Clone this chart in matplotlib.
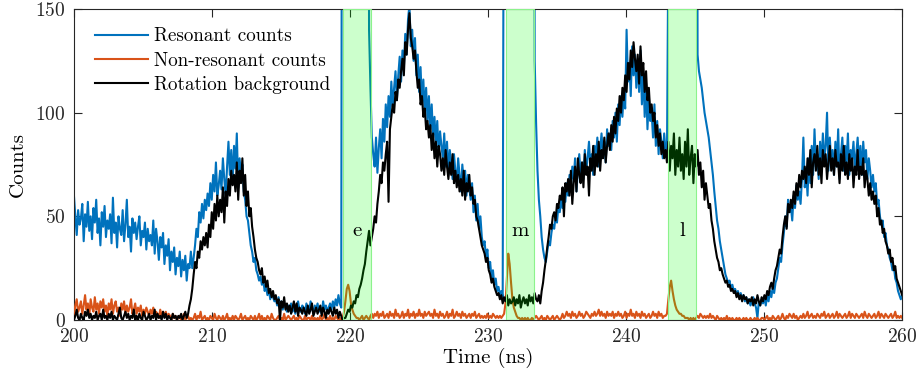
import numpy as np
import matplotlib
matplotlib.use("Agg")
import matplotlib.pyplot as plt

t_start, t_step = 199.493, 0.10087

resonant = [
61,48,52,44,55,60,50,41,53,46,
49,56,38,51,45,57,43,50,39,54,
47,58,42,49,36,52,45,55,40,48,
44,51,37,59,42,47,35,50,44,41,
53,38,46,58,40,45,33,49,42,47,
39,45,50,36,43,40,47,34,44,38,
41,36,48,32,44,38,29,40,35,42,
27,36,31,39,24,33,28,35,22,30,
26,33,21,29,24,31,19,27,25,33,
25,30,36,44,40,52,47,56,49,58,
53,61,55,66,58,70,62,76,60,65,
72,63,78,68,60,74,86,70,82,66,
84,73,90,64,78,70,75,62,58,50,
48,42,36,33,28,30,24,22,19,21,
17,19,14,16,12,15,10,13,11,9,
10,7,11,6,9,5,8,6,4,7,
5,8,4,7,3,6,9,5,4,7,
6,3,8,5,4,9,6,3,7,5,
8,4,6,3,9,5,7,4,6,8,
5,9,6,10,7,12,8,6,500,500,
500,500,500,500,500,500,500,500,500,500,
500,500,500,500,500,500,500,140,112,88,
80,74,88,71,83,92,78,97,86,104,
93,108,98,115,103,112,120,106,118,127,
115,130,122,138,128,145,152,132,140,125,
136,118,128,110,122,104,116,100,112,96,
108,92,104,88,98,85,96,80,91,84,
78,90,74,86,70,82,76,68,80,72,
66,78,70,62,75,67,72,60,70,64,
58,66,52,60,48,56,44,50,40,36,
38,30,34,25,28,20,24,17,20,14,
16,12,14,11,300,500,500,500,500,500,
500,500,500,500,500,500,500,500,500,500,
500,500,500,500,500,500,125,95,72,58,
50,40,34,30,28,33,38,36,42,46,
44,50,47,55,52,58,54,62,57,66,
60,70,64,74,68,78,62,72,80,70,
76,68,82,72,78,86,74,80,70,84,
78,88,74,82,90,80,86,76,92,84,
90,82,96,88,100,86,104,94,108,98,
110,102,140,115,124,108,132,118,128,112,
126,110,130,104,120,98,114,92,108,96,
100,88,104,84,96,80,92,86,78,90,
82,78,180,500,500,500,500,500,500,500,
500,500,500,500,500,500,500,500,500,500,
500,500,500,128,120,116,112,106,100,96,
92,88,82,76,70,62,55,48,44,38,
34,30,26,22,20,18,19,15,17,14,
15,12,14,11,13,10,12,9,11,8,
10,7,9,11,8,6,1,9,7,10,
8,11,7,12,9,14,11,16,13,18,
20,25,30,28,36,42,50,45,58,52,
55,48,60,54,65,58,62,56,68,88,
64,72,60,78,66,84,70,92,74,80,
68,86,74,90,78,84,100,72,88,76,
82,70,86,74,92,68,80,88,72,84,
76,90,70,82,78,86,72,80,88,74,
84,70,86,76,82,68,78,72,64,70,
62,66,56,58,50,46,48,40,42,36,
34,30,28,24,26,20,18,14,12,10,
12]

non_resonant = [
8,3,11,5,9,2,7,10,4,6,
9,3,7,12,5,8,2,10,6,4,
11,5,8,3,9,6,10,4,7,2,
8,5,10,3,7,9,4,6,2,8,
5,9,3,7,4,6,10,3,5,8,
3,6,4,7,2,5,3,6,4,2,
5,3,6,2,4,3,1,5,2,4,
2,4,1,3,2,0,3,1,2,0,
1,2,0,1,3,0,1,2,0,1,
0,1,3,0,2,1,4,0,1,2,
0,1,0,2,1,0,3,1,0,2,
1,0,2,0,1,3,0,1,0,2,
0,2,1,0,1,3,0,1,2,0,
1,0,2,1,0,2,0,1,3,0,
2,0,1,0,2,1,0,3,1,0,
0,1,2,0,1,0,3,0,1,2,
1,0,1,2,0,1,0,2,1,0,
0,2,0,1,1,0,2,0,1,0,
1,0,2,0,1,3,0,1,0,2,
0,1,0,2,1,0,1,0,1,4,
9,15,17,14,8,5,3,2,1,1,
0,1,2,0,1,2,1,0,2,3,
1,3,2,4,1,3,2,4,1,2,
3,1,4,2,3,1,5,2,3,1,
2,4,1,3,2,5,1,3,2,4,
1,3,2,5,2,3,1,4,2,3,
4,2,3,1,5,2,3,1,4,2,
3,1,2,4,1,3,2,5,1,2,
4,2,3,1,4,2,3,1,2,3,
1,3,2,4,1,2,3,1,2,1,
2,1,3,1,2,1,3,2,1,2,
1,2,1,2,3,8,20,32,27,18,
10,6,4,2,1,1,0,1,0,1,
0,1,0,0,1,0,1,2,1,0,
1,2,0,1,0,2,1,0,1,2,
0,1,2,1,0,1,3,1,2,4,
2,3,1,4,2,3,1,2,4,2,
3,1,2,4,3,2,1,3,2,4,
2,3,5,2,4,2,3,1,4,2,
3,2,4,1,3,2,4,2,3,1,
2,4,1,3,2,5,2,3,1,4,
2,3,1,4,2,3,1,2,3,1,
2,4,2,3,1,4,2,3,1,2,
2,3,10,16,19,14,10,7,5,4,
3,3,2,2,1,1,1,0,1,0,
1,0,1,2,1,3,2,1,2,1,
2,1,3,1,2,1,0,2,1,0,
1,0,1,0,2,0,1,0,1,0,
0,1,0,1,0,0,1,0,1,0,
0,1,0,0,1,0,1,0,0,1,
1,0,1,2,0,1,0,2,1,0,
1,2,0,1,3,1,0,2,1,3,
2,1,3,1,2,0,1,2,1,3,
1,2,4,1,2,3,1,2,1,3,
2,1,3,2,4,1,2,3,1,2,
3,1,2,4,1,3,2,1,2,3,
1,2,4,1,3,2,1,3,2,1,
2,3,1,4,2,1,3,2,1,2,
3,1,2,4,1,3,2,1,3,2,
1,2,3,1,2,4,1,2,1,2,
1]

background = [
2,0,3,1,4,0,2,5,1,0,
3,1,0,4,2,5,1,3,0,2,
1,4,0,2,3,0,5,1,2,0,
3,1,4,0,2,1,0,3,6,1,
0,2,4,1,3,0,2,1,5,0,
2,0,3,1,0,4,2,0,1,3,
0,2,1,5,0,3,1,2,0,4,
1,3,0,2,1,0,3,1,2,0,
2,1,3,0,2,4,1,3,7,10,
15,22,28,25,33,30,38,34,40,36,
42,35,46,40,52,44,56,48,60,50,
58,52,64,47,62,55,68,60,72,65,
70,62,76,58,72,66,78,60,70,55,
62,50,54,45,40,34,30,28,24,22,
25,18,21,16,19,13,15,11,14,10,
12,8,10,0,9,6,11,5,8,4,
7,3,6,9,4,8,2,6,5,3,
6,4,2,7,3,5,8,2,4,6,
3,5,7,2,6,4,1,5,3,6,
4,2,6,3,5,1,4,2,0,1,
1,3,5,4,7,6,9,8,12,11,
15,17,20,24,27,33,38,43,36,40,
44,50,47,56,62,70,66,76,72,80,
86,57,92,98,104,100,110,106,116,112,
120,126,118,134,128,140,148,136,132,126,
130,120,112,116,104,108,98,102,92,96,
88,94,82,90,78,86,74,84,80,72,
78,70,82,74,68,76,70,80,66,72,
64,70,62,68,60,72,58,66,62,70,
60,64,56,58,50,48,44,40,36,34,
32,28,30,24,22,18,20,16,14,12,
13,10,12,8,11,9,12,7,10,8,
9,11,7,10,8,12,6,9,11,8,
10,7,12,9,11,8,13,10,9,12,
8,14,18,24,29,35,40,46,44,50,
52,48,56,54,60,58,64,50,66,62,
68,60,72,56,66,74,62,78,70,66,
76,64,80,70,74,60,78,72,84,70,
80,74,86,72,82,78,88,76,84,90,
82,94,86,98,90,102,96,108,100,112,
106,118,110,124,116,130,122,134,126,120,
128,114,132,118,124,110,120,106,112,100,
104,96,100,88,94,84,90,80,86,78,
82,76,86,72,84,78,90,70,82,74,
88,72,80,68,86,74,92,70,78,84,
66,80,74,82,70,76,64,72,58,66,
60,54,56,48,44,38,34,30,28,24,
25,22,20,18,19,16,17,14,15,13,
14,11,13,10,12,9,12,10,11,8,
10,9,11,7,10,8,12,9,7,11,
9,12,10,14,12,16,18,15,20,24,
26,30,34,32,40,46,50,44,56,52,
58,54,62,56,66,60,70,64,72,68,
74,66,78,70,82,64,76,80,72,84,
70,78,66,82,74,80,68,76,84,72,
78,70,82,74,76,66,80,72,84,70,
76,68,80,72,78,64,74,70,82,68,
74,70,78,64,72,68,60,66,58,62,
56,60,50,54,46,48,42,44,38,36,
32,34,28,30,24,26,20,18,16,14,
12]

windows = [(219.5, 221.5), (231.3, 233.3), (243.05, 245.05)]
window_labels = ["e", "m", "l"]
label_y = 43

x_ticks = [200, 210, 220, 230, 240, 250, 260]
y_ticks = [0, 50, 100, 150]

plt.rcParams['font.family'] = ['cmr10', 'DejaVu Serif']
plt.rcParams['axes.formatter.use_mathtext'] = True

n = len(resonant)
time = t_start + t_step * np.arange(n)

fig = plt.figure(figsize=(9.19, 3.85), dpi=100)
ax = fig.add_axes([0.0805, 0.1688, 0.901, 0.8078])

ax.plot(time, resonant, color='#0072BD', lw=1.5, label='Resonant counts', zorder=2)
ax.plot(time, non_resonant, color='#D95319', lw=1.5, label='Non-resonant counts', zorder=3)
ax.plot(time, background, color='black', lw=1.5, label='Rotation background', zorder=4)

for (a, b), lab in zip(windows, window_labels):
    ax.axvspan(a, b, facecolor=(0, 1, 0, 0.2), edgecolor=(0.55, 0.95, 0.55), lw=0.8, zorder=5)
    ax.text((a + b) / 2, label_y, lab, ha='center', va='center', fontsize=15, zorder=6)

ax.set_xlim(200, 260)
ax.set_ylim(0, 150)
ax.set_xticks(x_ticks)
ax.set_yticks(y_ticks)
ax.tick_params(direction='in', top=True, right=True, length=6, width=0.8,
               labelsize=14, colors='#262626', pad=6)
for s in ax.spines.values():
    s.set_color('#262626')
    s.set_linewidth(0.8)
ax.set_xlabel('Time (ns)', fontsize=15, labelpad=1)
ax.set_ylabel('Counts', fontsize=15, labelpad=6)

leg = ax.legend(loc='upper left', frameon=False, fontsize=13.7, handlelength=2.8,
                handletextpad=0.3, labelspacing=0.33, borderaxespad=0.0,
                bbox_to_anchor=(0.016, 0.965))

fig.savefig('out.png', dpi=100)
